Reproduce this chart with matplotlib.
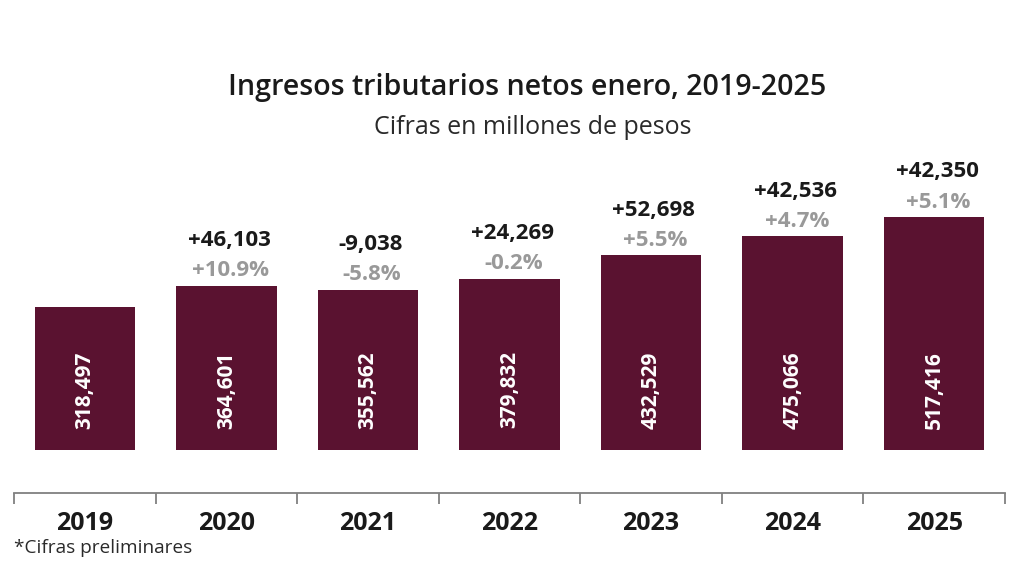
import numpy as np
import matplotlib.pyplot as plt

plt.rcParams['font.family'] = ['Open Sans', 'DejaVu Sans']

# datos
anios = ['2019', '2020', '2021', '2022', '2023', '2024', '2025']
ingresos = [318497, 364601, 355562, 379832, 432529, 475066, 517416]
cambio_abs = [None, '+46,103', '-9,038', '+24,269', '+52,698', '+42,536', '+42,350']
cambio_pct = [None, '+10.9%', '-5.8%', '-0.2%', '+5.5%', '+4.7%', '+5.1%']

color_barra = '#5A1230'
color_gris = '#999999'

fig = plt.figure(figsize=(10.24, 5.76), dpi=100)
ax = fig.add_axes([14 / 1024, 83 / 576, 991 / 1024, 343 / 576])

x = np.arange(len(anios))
barras = ax.bar(x, ingresos, width=0.71, color=color_barra)

k = max(ingresos) / 233.0  # unidades por pixel
ax.set_xlim(-0.5, len(anios) - 0.5)
ax.set_ylim(-43 * k, 300 * k)

for i, v in enumerate(ingresos):
    ax.text(i, 60 * k, f'{v:,}', rotation=90, ha='center', va='center',
            color='white', fontsize=15, fontweight='bold')
    if cambio_abs[i]:
        ax.text(i + 0.03, v + 15 * k, cambio_pct[i], ha='center', va='center',
                color=color_gris, fontsize=16, fontweight='bold')
        ax.text(i + 0.02, v + 45 * k, cambio_abs[i], ha='center', va='center',
                color='#1a1a1a', fontsize=16, fontweight='bold')

for s in ['top', 'right', 'left']:
    ax.spines[s].set_visible(False)
ax.spines['bottom'].set_color('#808080')
ax.spines['bottom'].set_linewidth(1.3)
ax.set_yticks([])
ax.set_xticks(x)
ax.set_xticklabels(anios, fontsize=18, fontweight='bold', color='#1a1a1a')
ax.tick_params(axis='x', which='major', length=0, pad=13)
ax.set_xticks(np.arange(-0.5, len(anios)), minor=True)
ax.tick_params(axis='x', which='minor', length=8, width=1.3, color='#808080')

fig.text(527 / 1024, 1 - 88 / 576, 'Ingresos tributarios netos enero, 2019-2025',
         ha='center', va='center', fontsize=20.6, fontweight='semibold', color='#1a1a1a')
fig.text(533 / 1024, 1 - 127 / 576, 'Cifras en millones de pesos',
         ha='center', va='center', fontsize=18, color='#2a2a2a')
fig.text(14 / 1024, 1 - 548 / 576, '*Cifras preliminares',
         ha='left', va='center', fontsize=13.7, color='#2a2a2a')

fig.savefig('out.png', dpi=100, facecolor='white')
